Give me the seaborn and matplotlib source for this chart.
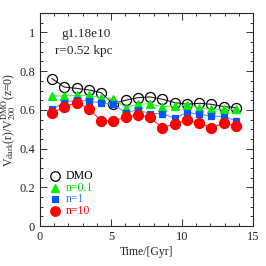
import numpy as np
import pandas as pd
import matplotlib
matplotlib.use("Agg")
import matplotlib.pyplot as plt
from matplotlib.ticker import MultipleLocator
import seaborn as sns

# time of each snapshot in Gyr
time_gyr = [0.85, 1.71, 2.58, 3.44, 4.30, 5.15, 6.04, 6.88,
            7.72, 8.62, 9.49, 10.35, 11.22, 12.05, 12.95, 13.80]

v_dmo = [0.762, 0.718, 0.711, 0.703, 0.689, 0.632, 0.650, 0.663,
         0.667, 0.655, 0.638, 0.629, 0.634, 0.629, 0.617, 0.612]
v_n01 = [0.672, 0.672, 0.675, 0.675, 0.663, 0.658, 0.612, 0.629,
         0.632, 0.617, 0.620, 0.624, 0.612, 0.603, 0.603, 0.603]
v_n1 = [0.603, 0.638, 0.650, 0.646, 0.636, 0.629, 0.586, 0.600,
        0.581, 0.581, 0.557, 0.586, 0.578, 0.569, 0.564, 0.544]
v_n10 = [0.583, 0.615, 0.638, 0.607, 0.544, 0.544, 0.561, 0.573,
         0.561, 0.509, 0.527, 0.547, 0.530, 0.509, 0.530, 0.518]

labels = ["DMO", "n=0.1", "n=1", "n=10"]

rows = []
for lab, vals in zip(labels, [v_dmo, v_n01, v_n1, v_n10]):
    for t, v in zip(time_gyr, vals):
        rows.append({"time": t, "v": v, "run": lab})
df = pd.DataFrame(rows)

sns.set_style("ticks")
plt.rcParams["font.family"] = ["Liberation Serif", "DejaVu Serif"]
plt.rcParams["mathtext.fontset"] = "stix"

fig = plt.figure(figsize=(2.66, 2.66), dpi=100)
ax = fig.add_axes([0.150, 0.150, 0.801, 0.801])

styles = {
    "DMO":   dict(line="#202020", marker="o", mfc="none", mec="black", ms=7.2, text="black"),
    "n=0.1": dict(line="#66e066", marker="^", mfc="#00ee00", mec="#00ee00", ms=5.5, text="#00dd00"),
    "n=1":   dict(line="#6699ff", marker="s", mfc="#0055ff", mec="#0055ff", ms=5.0, text="#3377ff"),
    "n=10":  dict(line="#ff3030", marker="o", mfc="red", mec="red", ms=7.2, text="red"),
}

for lab in labels:
    st = styles[lab]
    sub = df[df["run"] == lab]
    sns.lineplot(data=sub, x="time", y="v", ax=ax, color=st["line"], lw=0.8,
                 marker=st["marker"], markersize=st["ms"],
                 markerfacecolor=st["mfc"], markeredgecolor=st["mec"],
                 markeredgewidth=0.9, legend=False, zorder=3)

ax.set_xlim(0, 15)
ax.set_ylim(0, 1.1)
ax.xaxis.set_major_locator(MultipleLocator(5))
ax.xaxis.set_minor_locator(MultipleLocator(1))
ax.yaxis.set_major_locator(MultipleLocator(0.2))
ax.yaxis.set_minor_locator(MultipleLocator(0.05))
ax.set_yticks([0, 0.2, 0.4, 0.6, 0.8, 1.0])
ax.set_yticklabels(["0", "0.2", "0.4", "0.6", "0.8", "1"])
ax.tick_params(which="both", direction="in", top=True, right=True, labelsize=9,
               width=0.7, color="#333333")
ax.tick_params(which="major", length=5)
ax.tick_params(which="minor", length=2.5)
for sp in ax.spines.values():
    sp.set_linewidth(0.8)

ax.set_xlabel("Time/[Gyr]", fontsize=8.5, labelpad=2)
ax.set_ylabel(r"V$_{\rm dark}$(r)/V$_{200}^{\rm DMO}$(z=0)", fontsize=8.5, labelpad=1)

ax.text(0.10, 0.90, "g1.18e10", transform=ax.transAxes, fontsize=9.5, va="center")
ax.text(0.07, 0.82, "r=0.52 kpc", transform=ax.transAxes, fontsize=9.5, va="center")

# legend drawn by hand to match the original layout
leg_y = [0.235, 0.18, 0.125, 0.07]
for lab, yy in zip(labels, leg_y):
    st = styles[lab]
    ax.plot([0.07], [yy], transform=ax.transAxes, marker=st["marker"],
            markersize=st["ms"] * 0.95, markerfacecolor=st["mfc"],
            markeredgecolor=st["mec"], markeredgewidth=0.9, ls="none")
    ax.text(0.12, yy, lab, transform=ax.transAxes, fontsize=8.5,
            color=st["text"], va="center")

fig.savefig("out.png", dpi=100)
